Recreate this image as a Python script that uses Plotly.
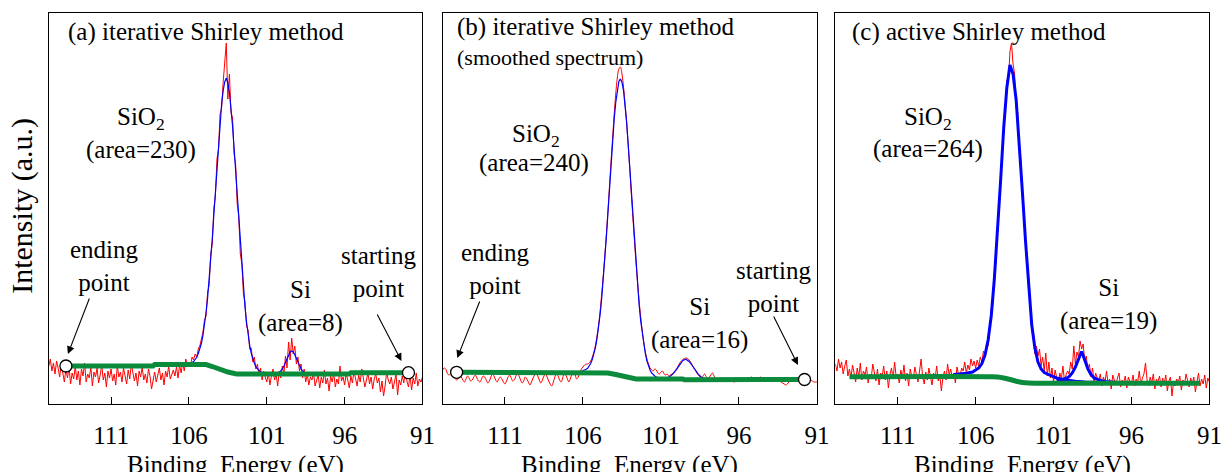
import numpy as np
import plotly.graph_objects as go

# ---------------- data (arbitrary intensity units) ----------------
# measured energy grid for the raw spectra (115 -> 91 eV, 0.1 eV step)
energy = np.round(np.arange(115.0, 90.95, -0.1), 1)

red_a = [38, 45, 33, 41, 30, 43, 36, 27, 40, 31,
         22, 35, 26, 37, 20, 31, 25, 38, 24, 33,
         19, 35, 28, 41, 22, 30, 26, 37, 18, 32,
         27, 36, 21, 29, 39, 24, 31, 17, 33, 26,
         35, 23, 30, 19, 38, 27, 32, 22, 36, 28,
         20, 34, 25, 40, 29, 23, 31, 18, 33, 27,
         37, 24, 30, 21, 35, 28, 15, 26, 32, 22,
         29, 36, 24, 31, 19, 33, 27, 38, 25, 30,
         34, 28, 37, 26, 39, 31, 42, 33, 45, 38,
         42, 38, 47, 44, 50, 47, 55, 58, 66, 72,
         84, 88, 112, 119, 150, 160, 196, 208, 245, 255,
         290, 296, 322, 345, 361, 305, 330, 292, 286, 250,
         240, 200, 188, 150, 140, 110, 102, 78, 74, 55,
         56, 42, 47, 35, 40, 28, 36, 24, 33, 27,
         22, 31, 19, 28, 35, 24, 30, 18, 33, 26,
         38, 30, 48, 36, 62, 44, 66, 50, 58, 40,
         47, 33, 40, 26, 35, 22, 30, 19, 27, 24,
         32, 18, 25, 29, 16, 27, 21, 34, 20, 26,
         13, 28, 22, 31, 17, 25, 20, 38, 23, 27,
         19, 30, 24, 16, 28, 21, 33, 25, 18, 29,
         22, 35, 26, 17, 24, 31, 20, 27, 15, 25,
         30, 21, 26, 12, 23, 8, 18, 32, 24, 20,
         27, 15, 22, 30, 9, 24, 19, 28, 21, 33,
         23, 17, 29, 14, 26, 20, 31, 18, 25, 22, 27]

red_b = [34, 36, 35, 31, 29, 30, 32, 30, 26, 24,
         25, 28, 27, 24, 22, 25, 28, 26, 23, 24,
         27, 29, 26, 23, 22, 25, 28, 27, 24, 21,
         23, 27, 30, 28, 24, 22, 25, 27, 25, 22,
         20, 23, 27, 29, 26, 23, 24, 28, 31, 28,
         24, 21, 23, 27, 25, 22, 19, 22, 26, 29,
         31, 28, 24, 21, 24, 28, 30, 27, 23, 20,
         18, 22, 27, 30, 28, 24, 22, 26, 31, 29,
         25, 22, 26, 30, 33, 29, 25, 27, 32, 35,
         37, 39, 40, 40, 41, 43, 47, 52, 59, 68,
         79, 93, 110, 128, 148, 170, 193, 218, 243, 266,
         290, 310, 326, 335, 337, 330, 317, 300, 281, 258,
         235, 210, 186, 163, 141, 121, 103, 87, 73, 61,
         52, 45, 40, 36, 34, 33, 35, 34, 31, 30,
         32, 33, 30, 29, 30, 28, 29, 30, 31, 33,
         35, 38, 41, 43, 44.5, 45.5, 46, 45.5, 44, 42,
         39, 36, 34, 31, 29, 27, 26, 28, 30, 27,
         25, 27, 29, 31, 28, 25, 24, 24, 25, 26,
         25, 24, 23, 24, 25, 24, 23, 22, 23, 24,
         25, 24, 23, 24, 25, 24, 24, 26, 27, 26,
         25, 24, 25, 26, 27, 25, 23, 24, 25, 26,
         25, 24, 23, 24, 25, 24, 23, 22, 21, 20,
         19, 20, 22, 24, 25, 24, 23, 24, 25, 24,
         23, 24, 25, 26, 25, 24, 24, 23, 22, 22, 22]

red_c = [40, 33, 45, 36, 42, 30, 38, 44, 28, 35,
         26, 39, 31, 22, 36, 27, 41, 24, 33, 29,
         37, 21, 30, 26, 40, 32, 23, 35, 19, 31,
         28, 38, 24, 33, 16, 29, 36, 25, 42, 27,
         30, 21, 34, 26, 39, 23, 31, 18, 35, 28,
         25, 37, 30, 22, 33, 45, 27, 20, 32, 24,
         36, 28, 19, 31, 26, 38, 23, 29, 13, 27,
         33, 24, 40, 29, 35, 26, 31, 21, 37, 30,
         27, 36, 33, 42, 31, 39, 34, 45, 38, 43,
         36, 44, 38, 47, 42, 53, 48, 60, 58, 72,
         95, 98, 131, 140, 178, 190, 230, 244, 282, 290,
         324, 322, 352, 361, 340, 330, 296, 292, 255, 245,
         205, 196, 158, 150, 112, 105, 72, 75, 50, 58,
         48, 55, 38, 47, 33, 51, 28, 42, 26, 36,
         22, 34, 27, 19, 31, 25, 38, 23, 29, 33,
         30, 42, 35, 58, 40, 52, 47, 63, 55, 60,
         43, 48, 34, 40, 27, 36, 22, 31, 26, 24,
         30, 18, 27, 22, 33, 20, 25, 15, 29, 23,
         19, 26, 31, 17, 24, 21, 28, 16, 27, 23,
         20, 29, 18, 25, 22, 33, 19, 26, 30, 41,
         24, 18, 27, 21, 30, 15, 25, 22, 28, 17,
         26, 20, 29, 13, 23, 27, 8, 22, 18, 25,
         21, 28, 14, 24, 19, 30, 23, 17, 26, 20,
         27, 12, 22, 31, 18, 25, 20, 29, 16, 26, 22]

# fitted envelopes (blue)
fit_a_e = [106.0, 105.9, 105.8, 105.7, 105.6, 105.5, 105.4, 105.3, 105.2, 105.1,
           105.0, 104.9, 104.8, 104.7, 104.6, 104.5, 104.4, 104.3, 104.2, 104.1,
           104.0, 103.9, 103.8, 103.7, 103.6, 103.5, 103.4, 103.3, 103.2, 103.1,
           103.0, 102.9, 102.8, 102.7, 102.6, 102.5, 102.4, 102.3, 102.2, 102.1,
           102.0, 101.9, 101.8, 101.7, 101.6, 101.5, 101.4, 101.3, 101.2, 101.0,
           100.6, 100.4, 100.2, 100.1, 100.0, 99.9, 99.8, 99.7, 99.6, 99.5,
           99.4, 99.3, 99.2, 99.1, 99.0, 98.9, 98.8, 98.7, 98.6, 98.4, 98.2]
fit_a = [40.5, 40.5, 41.5, 42.5, 44.5, 46.5, 50.5, 54.5, 60.5, 68.5,
         78.5, 91.5, 106, 123.5, 143, 165.5, 189, 213, 237.5, 261,
         282.5, 300, 313.5, 322, 326, 321, 311.5, 297, 278.5, 256,
         232, 207, 182, 158, 135, 115, 97, 82, 69, 59,
         51, 45, 41, 37, 35, 33, 32, 31, 30.5, 30,
         30, 30.3, 31.4, 33, 35, 38, 41.5, 45.6, 49.3, 52,
         53, 52, 49.3, 45.6, 41.5, 38, 35, 33, 31.4, 30.3, 30]

fit_b_e = [106.2, 106.0, 105.9, 105.8, 105.7, 105.6, 105.5, 105.4, 105.3, 105.2, 105.1,
           105.0, 104.9, 104.8, 104.7, 104.6, 104.5, 104.4, 104.3, 104.2, 104.1,
           104.0, 103.9, 103.8, 103.7, 103.6, 103.5, 103.4, 103.3, 103.2, 103.1,
           103.0, 102.9, 102.8, 102.7, 102.6, 102.5, 102.4, 102.3, 102.2, 102.1,
           102.0, 101.9, 101.8, 101.7, 101.6, 101.5, 101.4, 101.3, 101.2, 101.0,
           100.8, 100.6, 100.4, 100.2, 100.0, 99.8, 99.6, 99.4, 99.2, 99.0,
           98.8, 98.6, 98.4, 98.2, 98.0, 97.8]
fit_b = [32, 33, 33.7, 34.7, 35.7, 37.7, 40.7, 44.7, 49.7, 56.7, 65.7,
         76.7, 89.7, 105.7, 123.5, 144.3, 167.2, 191, 215.7, 240.4, 263.1,
         284.8, 301.5, 315, 322.6, 325.1, 321.7, 313.3, 298.9, 281.6, 259.2,
         235.9, 210.6, 185.4, 161.2, 138, 117, 99, 83, 70, 59,
         50, 43, 38, 34, 31, 29, 28, 27, 26.5, 26,
         25.8, 26.3, 27.7, 30.6, 34.7, 39.5, 43.5, 44.8, 42.5, 38.5,
         33.7, 29.6, 26.7, 25.1, 24.4, 24.1]

fit_c_sio2_e = [107.4, 107.0, 106.6, 106.2, 105.8, 105.6, 105.4, 105.2, 105.0, 104.8,
                104.6, 104.4, 104.2, 104.0, 103.8, 103.6, 103.4, 103.2, 103.0, 102.8,
                102.6, 102.4, 102.2, 102.0, 101.8, 101.6, 101.2, 100.8, 100.4, 100.0,
                99.6, 99.0, 98.0]
fit_c_sio2 = [29.5, 30, 30.7, 32, 36, 40.5, 49, 64, 88, 125,
              171, 223, 276, 316, 339, 330, 304, 262, 212, 163,
              118, 79, 56, 42, 35, 31.5, 28.5, 26, 24.5, 23.5,
              22.8, 22, 21.5]
fit_c_si_e = [100.8, 100.4, 100.2, 100.0, 99.8, 99.6, 99.4, 99.2, 99.0, 98.8,
              98.6, 98.4, 98.0, 97.6, 97.0, 96.5]
fit_c_si = [23.5, 24.5, 25.5, 27.5, 31, 37, 45, 52.5, 44, 35,
            29.5, 26, 23.5, 22.3, 21.7, 21.5]

# Shirley backgrounds (green)
bg_a_e = [113.9, 108.3, 108.2, 104.9, 104.5, 104.0, 103.5, 103.0, 102.9, 95.7, 95.6, 91.9]
bg_a = [38, 38, 39.5, 39.5, 37.5, 34.5, 32, 30.3, 30, 30, 31.3, 31.3]
bg_b_e = [114.1, 104.8, 104.4, 103.9, 103.4, 102.9, 102.6, 99.6, 99.5, 91.8]
bg_b = [31.7, 31.7, 31, 29.5, 27.3, 25.6, 25, 25, 24.3, 24.5]
bg_c_e = [114.1, 105.0, 104.6, 104.2, 103.8, 103.4, 103.0, 102.6, 102.2, 91.6]
bg_c = [27.3, 27.3, 27.0, 26.0, 24.5, 22.8, 21.5, 20.9, 20.7, 20.7]

tick_vals = [111, 106, 101, 96, 91]
tick_text = ["111", "106", "101", "96", "91"]

# ---------------- figure ----------------
FONT = "Liberation Serif"
RED, BLUE, GREEN = "#ff0000", "#0000ff", "#0b8c3c"

fig = go.Figure()

def add_panel(ax, red, fits, bg_e, bg, blue_w, circles, red_shape="linear"):
    xa, ya = ("x", "y") if ax == 1 else (f"x{ax}", f"y{ax}")
    fig.add_trace(go.Scatter(x=energy, y=red, mode="lines",
                             line=dict(color=RED, width=1, shape=red_shape),
                             xaxis=xa, yaxis=ya, showlegend=False, hoverinfo="skip"))
    for fe, fv in fits:
        fig.add_trace(go.Scatter(x=fe, y=fv, mode="lines", line=dict(color=BLUE, width=blue_w),
                                 xaxis=xa, yaxis=ya, showlegend=False, hoverinfo="skip"))
    fig.add_trace(go.Scatter(x=bg_e, y=bg, mode="lines",
                             line=dict(color=GREEN, width=5, shape="spline" if not circles else "linear"),
                             xaxis=xa, yaxis=ya, showlegend=False, hoverinfo="skip"))
    if circles:
        fig.add_trace(go.Scatter(x=[bg_e[0], bg_e[-1]], y=[bg[0], bg[-1]], mode="markers",
                                 marker=dict(size=12, color="white", line=dict(color="black", width=1.3)),
                                 xaxis=xa, yaxis=ya, showlegend=False, hoverinfo="skip"))

add_panel(1, red_a, [(fit_a_e, fit_a)], bg_a_e, bg_a, 1.2, True)
add_panel(2, red_b, [(fit_b_e, fit_b)], bg_b_e, bg_b, 1.2, True, red_shape="spline")
add_panel(3, red_c, [(fit_c_sio2_e, fit_c_sio2), (fit_c_si_e, fit_c_si)], bg_c_e, bg_c, 3, False)

W, H = 1232, 472
x_domains = [[49.3 / W, 427 / W], [447.3 / W, 825.7 / W], [844.3 / W, 1222.3 / W]]
y_domain = [68 / H, 459 / H]

layout = dict(width=W, height=H, margin=dict(l=0, r=0, t=0, b=0),
              paper_bgcolor="white", plot_bgcolor="white",
              font=dict(family=FONT, size=25, color="black"))
for i, dom in enumerate(x_domains, start=1):
    sfx = "" if i == 1 else str(i)
    layout["xaxis" + sfx] = dict(domain=dom, range=[115, 91], anchor="y" + sfx,
                                 tickmode="array", tickvals=tick_vals, ticktext=tick_text,
                                 ticks="inside", ticklen=7, tickwidth=1.2, tickcolor="black",
                                 showline=True, mirror=True, linecolor="black", linewidth=1.3,
                                 showgrid=False, zeroline=False, ticklabelstandoff=9,
                                 tickfont=dict(family=FONT, size=25, color="black"))
    layout["yaxis" + sfx] = dict(domain=y_domain, range=[0, 391], anchor="x" + sfx,
                                 showticklabels=False, ticks="", showline=True, mirror=True,
                                 linecolor="black", linewidth=1.3, showgrid=False, zeroline=False)
fig.update_layout(**layout)

def txt(ax, x, y, text, size=25, xanchor="center"):
    xr = "x" if ax == 1 else f"x{ax}"
    yr = "y" if ax == 1 else f"y{ax}"
    fig.add_annotation(x=x, y=y, xref=xr, yref=yr, text=text, showarrow=False,
                       xanchor=xanchor, yanchor="middle",
                       font=dict(family=FONT, size=size, color="black"))

def arrow(ax, x, y, dx, dy):
    xr = "x" if ax == 1 else f"x{ax}"
    yr = "y" if ax == 1 else f"y{ax}"
    fig.add_annotation(x=x, y=y, xref=xr, yref=yr, ax=dx, ay=dy, text="", showarrow=True,
                       arrowhead=2, arrowsize=1.4, arrowwidth=1.1, arrowcolor="black", standoff=0)

# panel (a)
txt(1, 113.9, 372, "(a) iterative Shirley method", xanchor="left")
txt(1, 109.1, 286, "SiO<sub>2</sub>")
txt(1, 109.1, 254, "(area=230)")
txt(1, 111.42, 138, "ending<br>point")
txt(1, 98.86, 97.5, "Si<br>(area=8)")
txt(1, 93.83, 132.5, "starting<br>point")
arrow(1, 113.77, 50, 22, -57)
arrow(1, 92.35, 43, -25, -48)

# panel (b)
txt(2, 114.18, 377, "(b) iterative Shirley method", xanchor="left")
txt(2, 114.18, 347, "(smoothed spectrum)", size=22, xanchor="left")
txt(2, 109.03, 269, "SiO<sub>2</sub>")
txt(2, 109.15, 241, "(area=240)")
txt(2, 111.64, 135, "ending<br>point")
txt(2, 98.52, 80.5, "Si<br>(area=16)")
txt(2, 93.8, 117, "starting<br>point")
arrow(2, 114.06, 46, 23, -58)
arrow(2, 92.22, 39, -25, -50)

# panel (c)
txt(3, 114.08, 372, "(c) active Shirley method", xanchor="left")
txt(3, 109.05, 286, "SiO<sub>2</sub>")
txt(3, 109.06, 255, "(area=264)")
txt(3, 97.45, 100, "Si<br>(area=19)")

# axis titles
for i in range(1, 4):
    xr = "x domain" if i == 1 else f"x{i} domain"
    fig.add_annotation(x=0.5, y=1 - 449 / H, xref=xr, yref="paper", text="Binding  Energy (eV)",
                       showarrow=False, xanchor="center", yanchor="top",
                       font=dict(family=FONT, size=25, color="black"))
fig.add_annotation(x=22 / W, y=1 - 206 / H, xref="paper", yref="paper", text="Intensity (a.u.)",
                   textangle=-90, showarrow=False, xanchor="center", yanchor="middle",
                   font=dict(family=FONT, size=30, color="black"))

fig.write_html("out.html")
